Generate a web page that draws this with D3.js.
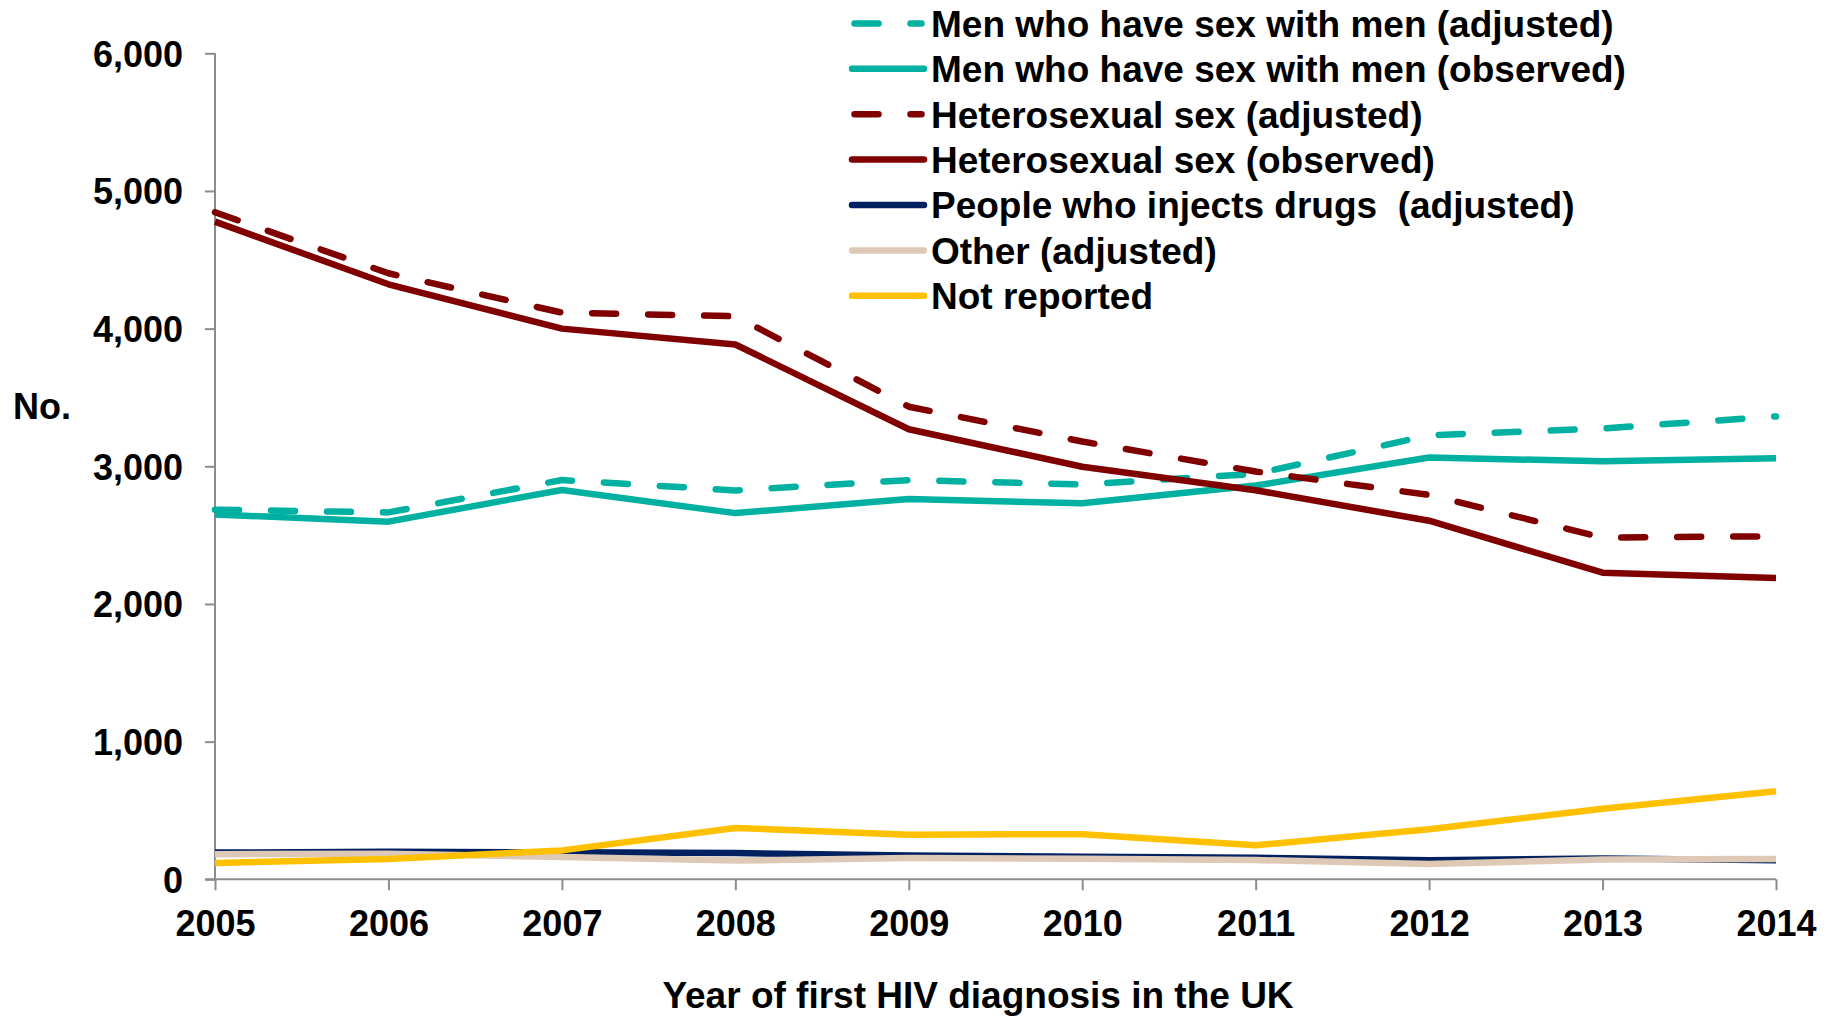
<!DOCTYPE html>
<html>
<head>
<meta charset="utf-8">
<script src="https://cdn.jsdelivr.net/npm/d3@7"></script>
<style>
  html, body { margin: 0; padding: 0; background: #ffffff; }
  svg text { font-family: "Liberation Sans", Arial, sans-serif; font-weight: bold; fill: #000; white-space: pre; }
</style>
</head>
<body>
<svg id="chart" width="1833" height="1017"></svg>
<script>
const years = [2005, 2006, 2007, 2008, 2009, 2010, 2011, 2012, 2013, 2014];
const yTicks = [0, 1000, 2000, 3000, 4000, 5000, 6000];

const msmAdjusted = [2685, 2665, 2900, 2825, 2900, 2868, 2945, 3225, 3275, 3362];
const msmObserved = [2650, 2598, 2828, 2660, 2762, 2731, 2860, 3064, 3036, 3058];
const hetAdjusted = [4845, 4402, 4116, 4090, 3433, 3180, 2962, 2792, 2482, 2492];
const hetObserved = [4777, 4322, 4000, 3885, 3269, 2997, 2826, 2605, 2227, 2189];
const pwidAdjusted = [194, 200, 196, 191, 172, 164, 157, 138, 152, 138];
const otherAdjusted = [182, 186, 162, 136, 155, 150, 140, 111, 143, 148];
const notReported = [119, 147, 210, 373, 324, 328, 247, 363, 513, 640];

const seriesNames = [
  "Men who have sex with men (adjusted)",
  "Men who have sex with men (observed)",
  "Heterosexual sex (adjusted)",
  "Heterosexual sex (observed)",
  "People who injects drugs  (adjusted)",
  "Other (adjusted)",
  "Not reported"
];
const seriesValues = [msmAdjusted, msmObserved, hetAdjusted, hetObserved, pwidAdjusted, otherAdjusted, notReported];
const seriesColors = ["#00B0A0", "#00B0A0", "#800000", "#800000", "#002060", "#DDC9B6", "#FFC000"];
const seriesDashed = [true, false, true, false, false, false, false];

const svg = d3.select("#chart");
const x = d3.scaleLinear().domain([2005, 2014]).range([215, 1776]);
const y = d3.scaleLinear().domain([0, 6000]).range([879.3, 53.3]);

const axisColor = "#8c8c8c";

// Y axis
const yAxis = svg.append("g").attr("transform", `translate(${x(2005)},0)`)
  .call(d3.axisLeft(y).tickValues(yTicks).tickSize(10).tickPadding(22).tickFormat(d3.format(",")));
yAxis.select(".domain").attr("stroke", axisColor).attr("stroke-width", 2)
  .attr("d", `M0,${y(6000)}V${y(0)}`);
yAxis.selectAll(".tick line").attr("stroke", axisColor).attr("stroke-width", 2);
yAxis.selectAll(".tick text").style("font-size", "36px").attr("dy", "0.36em");

// X axis
const xAxis = svg.append("g").attr("transform", `translate(0,${y(0)})`)
  .call(d3.axisBottom(x).tickValues(years).tickSize(11).tickPadding(20).tickFormat(d3.format("d")));
xAxis.select(".domain").attr("stroke", axisColor).attr("stroke-width", 2)
  .attr("d", `M${x(2005) - 10},0H${x(2014)}`);
xAxis.selectAll(".tick line").attr("stroke", axisColor).attr("stroke-width", 2);
xAxis.selectAll(".tick text").style("font-size", "36px").attr("dy", "0.71em");

// Lines
const line = d3.line().x((d, i) => x(years[i])).y(d => y(d));
seriesValues.forEach((vals, k) => {
  svg.append("path")
    .attr("d", line(vals))
    .attr("fill", "none")
    .attr("stroke", seriesColors[k])
    .attr("stroke-width", 6.5)
    .attr("stroke-linejoin", "round")
    .attr("stroke-linecap", seriesDashed[k] ? "round" : "butt")
    .attr("stroke-dasharray", seriesDashed[k] ? "24,32" : null);
});

// Legend
const legend = svg.append("g");
seriesNames.forEach((name, k) => {
  const cy = 23.4 + k * 45.4;
  legend.append("line")
    .attr("x1", seriesDashed[k] ? 854.5 : 852).attr("x2", seriesDashed[k] ? 921.5 : 924)
    .attr("y1", cy).attr("y2", cy)
    .attr("stroke", seriesColors[k])
    .attr("stroke-width", 6.5)
    .attr("stroke-linecap", "round")
    .attr("stroke-dasharray", seriesDashed[k] ? "24,32" : null);
  legend.append("text")
    .attr("x", 931).attr("y", cy).attr("dy", "0.36em")
    .attr("xml:space", "preserve")
    .style("font-size", "37px")
    .text(name);
});

// Axis titles
svg.append("text").attr("x", 13).attr("y", 419).style("font-size", "36px").text("No.");
svg.append("text").attr("x", 978).attr("y", 1008).attr("text-anchor", "middle")
  .style("font-size", "37px").text("Year of first HIV diagnosis in the UK");
</script>
</body>
</html>
